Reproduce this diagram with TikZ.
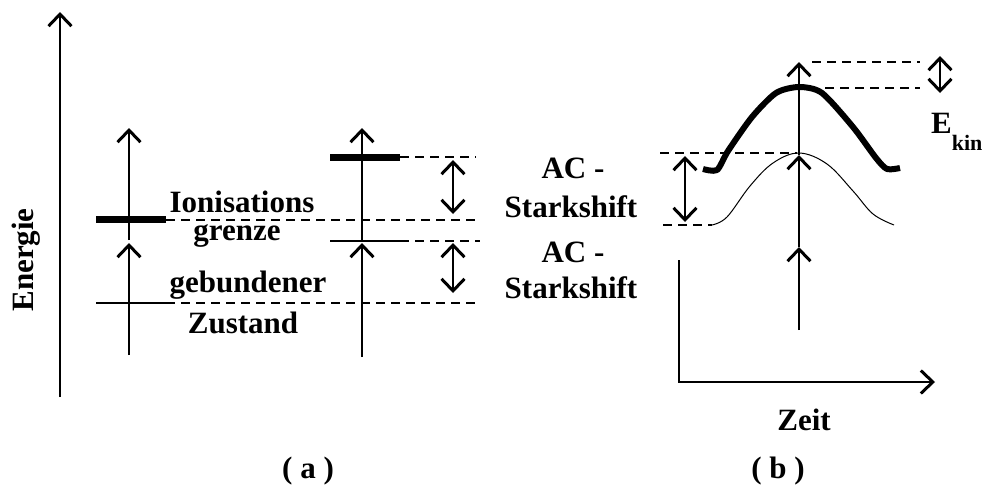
\documentclass[tikz,border=0pt]{standalone}
\usepackage{fontspec}
\setmainfont{Liberation Serif}
\usetikzlibrary{arrows.meta}
\tikzset{
  barb/.tip={Straight Barb[length=12pt,width=23pt,line width=3pt]},
  ar/.style={line width=1.6pt,-barb},
  dar/.style={line width=1.6pt,barb-barb},
  dsh/.style={line width=1.4pt,dash pattern=on 9pt off 6pt},
  thickbar/.style={line width=7pt},
  lvl/.style={line width=1.6pt},
  lbl/.style={font=\fontsize{31}{36}\selectfont\bfseries,inner sep=0pt,anchor=base},
}
\begin{document}
\begin{tikzpicture}[x=1pt,y=-1pt]
\useasboundingbox (0,0) rectangle (985,485);
% ---------- panel (a) ----------
\draw[ar] (60,397) -- (60,12);
\node[lbl,rotate=90] (energie) at (33,260) {Energie};
% left column
\draw[ar] (129,355) -- (129,243);
\draw[ar] (129,240) -- (129,128);
\draw[thickbar] (96,219) -- (166,219);
\draw[dsh] (166,220) -- (480,220);
\draw[lvl] (96,303) -- (166,303);
\draw[dsh] (166,303) -- (480,303);
% right column
\draw[ar] (362,357) -- (362,243);
\draw[ar] (362,241) -- (362,128);
\draw[thickbar] (330,157) -- (400,157);
\draw[dsh] (400,157) -- (476,157);
\draw[lvl] (330,241) -- (400,241);
\draw[dsh] (400,241) -- (480,241);
\draw[dar] (453,160) -- (453,214);
\draw[dar] (453,243) -- (453,293);
% labels
\node[lbl] (ion) at (242,212) {Ionisations};
\node[lbl] (gre) at (237,240) {grenze};
\node[lbl] (geb) at (248,292) {gebundener};
\node[lbl] (zus) at (243,333) {Zustand};
\node[lbl] (ac1) at (573,178) {AC -};
\node[lbl] (st1) at (571,217) {Starkshift};
\node[lbl] (ac2) at (573,262) {AC -};
\node[lbl] (st2) at (571,298) {Starkshift};
\node[lbl] (pa) at (308,478) {( a )};
% ---------- panel (b) ----------
\draw[line width=1.6pt,-barb] (679,260) -- (679,382) -- (935,382);
\node[lbl] (zeit) at (804,430) {Zeit};
\node[lbl] (pb) at (778,478) {( b )};
% curves
\draw[line width=6pt,line join=round] plot[smooth,tension=0.45] coordinates
  {(703,169) (717,170) (728,151) (752,117) (776,93) (799,87) (822,93) (853,127) (876,158) (887,169) (900,168)};
\draw[line width=1pt] plot[smooth,tension=0.6] coordinates
  {(712,225) (727,217) (750,186) (773,163) (799,153) (827,164) (853,191) (873,214) (894,225)};
% vertical arrows
\draw[ar] (799,330) -- (799,247);
\draw[ar] (799,247) -- (799,155);
\draw[ar] (799,155) -- (799,62);
% dashed
\draw[dsh] (660,153) -- (797,153);
\draw[dsh] (663,225) -- (712,225);
\draw[dsh] (812,62) -- (920,62);
\draw[dsh] (825,88) -- (920,88);
\draw[dar] (685,156) -- (685,222);
\draw[dar] (940,56) -- (940,93);
\node[lbl,anchor=base west] (ekin) at (931,133) {E\raisebox{-17pt}{\fontsize{22}{26}\selectfont kin}};
\end{tikzpicture}
\end{document}
